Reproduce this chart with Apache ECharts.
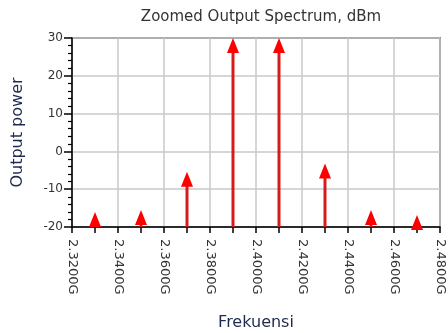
<!DOCTYPE html>
<html>
<head>
<meta charset="utf-8">
<script src="https://cdn.jsdelivr.net/npm/echarts@6/dist/echarts.min.js"></script>
<style>html,body{margin:0;padding:0;background:#fff;}#c{width:448px;height:333px;}</style>
</head>
<body>
<div id="c"></div>
<script>
const titleText = 'Zoomed Output Spectrum, dBm';
const xName = 'Frekuensi';
const yName = 'Output power';
const freqs = [2.33, 2.35, 2.37, 2.39, 2.41, 2.43, 2.45, 2.47];
const power = [-16, -15.5, -5.4, 30, 30, -3.2, -15.5, -16.8];
const xMin = 2.32, xMax = 2.48, xStep = 0.02;
const yMin = -20, yMax = 30, yStep = 10;

const chart = echarts.init(document.getElementById('c'), null, {renderer: 'canvas'});
const data = freqs.map((f, i) => [f, power[i]]);
chart.setOption({
  animation: false,
  backgroundColor: '#fff',
  title: {
    text: titleText, left: 256, top: 5, textAlign: 'center',
    textStyle: {fontFamily: 'DejaVu Sans', fontSize: 15, fontWeight: 'normal', color: '#333'}
  },
  grid: {left: 72, right: 8, top: 38, bottom: 106, outerBoundsMode: 'none', containLabel: false,
         show: true, borderColor: '#333', borderWidth: 1.5, backgroundColor: '#fff'},
  xAxis: {
    type: 'value', min: xMin, max: xMax, interval: xStep,
    name: xName, nameLocation: 'middle', nameGap: 88,
    nameTextStyle: {fontFamily: 'DejaVu Sans', fontSize: 16, color: '#1e2a4e'},
    axisLine: {show: true, onZero: false, lineStyle: {color: '#000', width: 1.5}},
    axisTick: {show: true, length: 6, lineStyle: {color: '#000', width: 1.5}},
    minorTick: {show: true, splitNumber: 2, length: 6, lineStyle: {color: '#000', width: 1.5}},
    splitLine: {show: true, lineStyle: {color: '#c8c8c8', width: 1.5}},
    axisLabel: {
      rotate: -90, margin: 12, fontFamily: 'DejaVu Sans', fontSize: 13, color: '#333',
      formatter: v => v.toFixed(4) + 'G'
    }
  },
  yAxis: {
    type: 'value', min: yMin, max: yMax, interval: yStep,
    name: yName, nameLocation: 'middle', nameGap: 46,
    nameTextStyle: {fontFamily: 'DejaVu Sans', fontSize: 16, color: '#1e2a4e'},
    axisLine: {show: true, onZero: false, lineStyle: {color: '#000', width: 1.5}},
    axisTick: {show: true, length: 8, lineStyle: {color: '#000', width: 1.5}},
    minorTick: {show: true, splitNumber: 5, length: 4, lineStyle: {color: '#000', width: 1.2}},
    splitLine: {show: true, lineStyle: {color: '#c8c8c8', width: 1.5}},
    axisLabel: {margin: 9, fontFamily: 'DejaVu Sans', fontSize: 12, color: '#333'}
  },
  series: [{
    type: 'custom',
    data: data,
    clip: false,
    renderItem: function (params, api) {
      const x = api.value(0), v = api.value(1);
      const base = api.coord([x, yMin]);
      const tip = api.coord([x, v]);
      const h = 15, w = 12;
      return {
        type: 'group',
        children: [
          {type: 'line', shape: {x1: base[0], y1: base[1], x2: tip[0], y2: tip[1] + h - 1},
           style: {stroke: '#d41c1c', lineWidth: 3}},
          {type: 'polygon', shape: {points: [[tip[0], tip[1]], [tip[0] - w / 2, tip[1] + h], [tip[0] + w / 2, tip[1] + h]]},
           style: {fill: '#ff0000'}}
        ]
      };
    }
  }]
});
</script>
</body>
</html>
